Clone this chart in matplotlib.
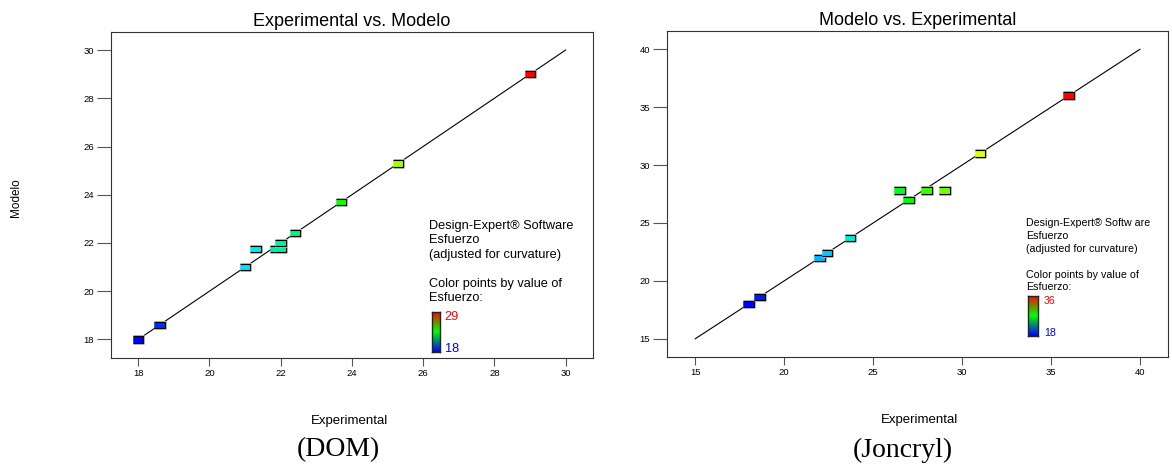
import numpy as np
import matplotlib
matplotlib.use("Agg")
import matplotlib.pyplot as plt
import matplotlib.patheffects as pe
from matplotlib.colors import LinearSegmentedColormap

plt.rcParams['font.family'] = ['Liberation Sans', 'DejaVu Sans']

# DOM data (experimental, modelo)
dom_exp = [18.0, 18.6, 21.0, 21.3, 21.85, 22.0, 22.0, 22.4, 23.7, 25.3, 29.0]
dom_mod = [18.0, 18.6, 21.0, 21.75, 21.75, 21.75, 22.0, 22.4, 23.7, 25.3, 29.0]
dom_range = (18, 29)

# Joncryl data (experimental, modelo)
jon_exp = [18.0, 18.6, 22.0, 22.4, 23.7, 26.5, 27.0, 28.0, 29.0, 31.0, 36.0]
jon_mod = [18.0, 18.6, 22.0, 22.4, 23.7, 27.8, 27.0, 27.8, 27.8, 31.0, 36.0]
jon_range = (18, 36)

dom_ticks = [18, 20, 22, 24, 26, 28, 30]
jon_ticks = [15, 20, 25, 30, 35, 40]

point_cmap = LinearSegmentedColormap.from_list(
    'de', [(0.0, '#0000ff'), (0.28, '#00e8ff'), (0.5, '#00ff00'),
           (0.75, '#ffff00'), (1.0, '#ff0000')])
bar_cmap = LinearSegmentedColormap.from_list('bar', ['#0000ff', '#00ff00', '#ff0000'])

rect = [(-5, -3), (5, -3), (5, 3), (-5, 3)]

fig = plt.figure(figsize=(11.72, 4.65), dpi=100)


def panel(pos, xs, ys, vrange, ticks, lim, title, line_end):
    ax = fig.add_axes(pos)
    ax.plot(line_end, line_end, color='black', lw=0.8, zorder=2)
    ax.scatter(xs, ys, c=xs, cmap=point_cmap, vmin=vrange[0], vmax=vrange[1],
               marker=rect, s=58, edgecolors='black', linewidths=0.8, zorder=3,
               path_effects=[pe.withStroke(linewidth=2.2, foreground='#b8b8b8')])
    ax.set_xlim(lim)
    ax.set_ylim(lim)
    ax.set_xticks(ticks)
    ax.set_yticks(ticks)
    ax.tick_params(axis='x', direction='out', length=6, width=0.8, color='#555555',
                   labelsize=6.8, pad=2)
    ax.tick_params(axis='y', direction='out', length=10, width=0.8, color='#555555',
                   labelsize=6.8, pad=2)
    for s in ax.spines.values():
        s.set_color('#333333')
        s.set_linewidth(0.8)
    ax.set_title(title, fontsize=13, pad=4)
    return ax


ax1 = panel([0.0945, 0.2301, 0.4112, 0.7017], dom_exp, dom_mod, dom_range,
            dom_ticks, (17.23, 30.76), 'Experimental vs. Modelo', [18, 30])
ax2 = panel([0.5689, 0.2316, 0.4277, 0.7017], jon_exp, jon_mod, jon_range,
            jon_ticks, (13.4, 41.58), 'Modelo vs. Experimental', [15, 40])

# legend text blocks
fig.text(429 / 1172, 1 - 220 / 465,
         'Design-Expert® Software\nEsfuerzo\n(adjusted for curvature)\n\n'
         'Color points by value of\nEsfuerzo:',
         fontsize=9.2, va='top', ha='left', linespacing=1.27)
fig.text(1026 / 1172, 1 - 218 / 465,
         'Design-Expert® Softw are\nEsfuerzo\n(adjusted for curvature)\n\n'
         'Color points by value of\nEsfuerzo:',
         fontsize=7.7, va='top', ha='left', linespacing=1.36)

grad = np.linspace(0, 1, 100).reshape(-1, 1)
for pos, hi, lo, fs in [([432 / 1172, 1 - 352 / 465, 8 / 1172, 40 / 465], dom_range[1], dom_range[0], 9.2),
                        ([1028 / 1172, 1 - 336 / 465, 10 / 1172, 40 / 465], jon_range[1], jon_range[0], 7.7)]:
    cax = fig.add_axes(pos)
    cax.imshow(grad, cmap=bar_cmap, aspect='auto', origin='lower')
    cax.set_xticks([])
    cax.set_yticks([])
    for s in cax.spines.values():
        s.set_color('#222222')
        s.set_linewidth(1.0)
    cax.text(1.6, 0.88, str(hi), color='#ff0000', fontsize=fs,
             transform=cax.transAxes, va='center', ha='left')
    cax.text(1.6, 0.08, str(lo), color='#0000ff', fontsize=fs,
             transform=cax.transAxes, va='center', ha='left')

fig.text(16 / 1172, 1 - 198 / 465, 'Modelo', rotation=90, fontsize=8.5,
         ha='center', va='center')
fig.text(350 / 1172, 1 - 421 / 465, 'Experimental', fontsize=9.5,
         ha='center', va='center')
fig.text(920 / 1172, 1 - 420 / 465, 'Experimental', fontsize=9.5,
         ha='center', va='center')
fig.text(338 / 1172, 1 - 450 / 465, '(DOM)', fontsize=20,
         family=['Liberation Serif', 'DejaVu Serif'], ha='center', va='center')
fig.text(903 / 1172, 1 - 450 / 465, '(Joncryl)', fontsize=20,
         family=['Liberation Serif', 'DejaVu Serif'], ha='center', va='center')

fig.savefig('out.png', dpi=100)
